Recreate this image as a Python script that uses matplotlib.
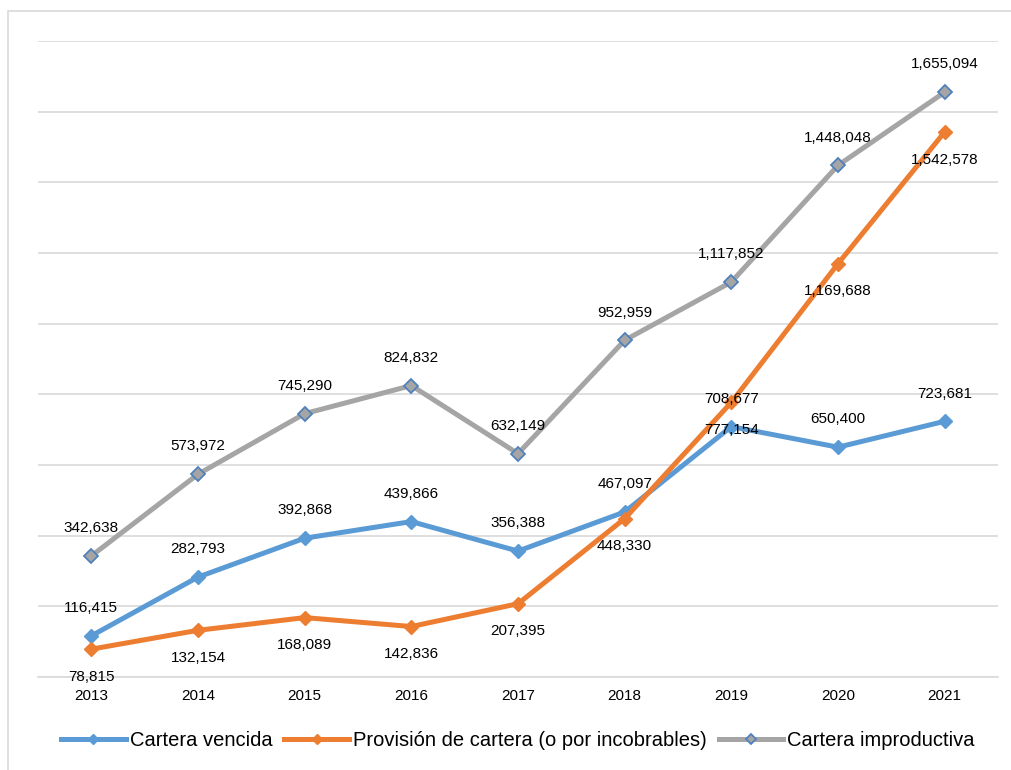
import matplotlib.pyplot as plt
import matplotlib.patches as mpatches

plt.rcParams['font.family'] = ['Liberation Sans', 'DejaVu Sans']

years = ['2013', '2014', '2015', '2016', '2017', '2018', '2019', '2020', '2021']
vencida = [116415, 282793, 392868, 439866, 356388, 467097, 708677, 650400, 723681]
provision = [78815, 132154, 168089, 142836, 207395, 448330, 777154, 1169688, 1542578]
improductiva = [342638, 573972, 745290, 824832, 632149, 952959, 1117852, 1448048, 1655094]

fig = plt.figure(figsize=(10.11, 7.7), dpi=100)
ax = fig.add_axes([38/1011, 93/770, 960/1011, 636/770])

# light frame around chart (only top/left visible in the crop)
fig.patches.append(mpatches.Rectangle((8/1011, -0.1), 1.1, (770-11)/770 + 0.1,
                                      transform=fig.transFigure, fill=False,
                                      edgecolor='#d9d9d9', linewidth=1.2))

x = list(range(len(years)))
ax.plot(x, vencida, color='#5B9BD5', lw=3.6, marker='D', ms=7,
        mfc='#5B9BD5', mec='#5B9BD5', label='Cartera vencida', zorder=3)
ax.plot(x, provision, color='#ED7D31', lw=3.6, marker='D', ms=7,
        mfc='#ED7D31', mec='#ED7D31',
        label='Provisión de cartera (o por incobrables)', zorder=3)
ax.plot(x, improductiva, color='#A5A5A5', lw=3.6, marker='D', ms=7,
        mfc='#A5A5A5', mec='#4F81BD', mew=1.3,
        label='Cartera improductiva', zorder=3)

for xi, v in zip(x, vencida):
    ax.annotate(f"{v:,}", (xi, v), xytext=(0, 20), textcoords='offset points',
                ha='center', va='center', fontsize=11, zorder=4)
for xi, v in zip(x, provision):
    ax.annotate(f"{v:,}", (xi, v), xytext=(0, -20), textcoords='offset points',
                ha='center', va='center', fontsize=11, zorder=4)
for xi, v in zip(x, improductiva):
    ax.annotate(f"{v:,}", (xi, v), xytext=(0, 20), textcoords='offset points',
                ha='center', va='center', fontsize=11, zorder=4)

ax.set_xlim(-0.5, 8.5)
ax.set_ylim(0, 1800000)
ax.set_yticks(range(0, 1800001, 200000))
ax.set_yticklabels([])
ax.set_xticks(x)
ax.set_xticklabels(years, fontsize=11)
ax.tick_params(axis='both', length=0)
ax.tick_params(axis='x', pad=9)
ax.grid(axis='y', color='#d9d9d9', lw=1.2)
ax.set_axisbelow(True)
for s in ['top', 'right', 'left']:
    ax.spines[s].set_visible(False)
ax.spines['bottom'].set_color('#d9d9d9')
ax.spines['bottom'].set_linewidth(1.2)

ax.legend(loc='center', bbox_to_anchor=(0.5, -0.1), ncol=3, frameon=False,
          fontsize=14.5, handlelength=3.2, handletextpad=0.2, columnspacing=0.6,
          markerscale=0.75)

fig.savefig('out.png', dpi=100)
